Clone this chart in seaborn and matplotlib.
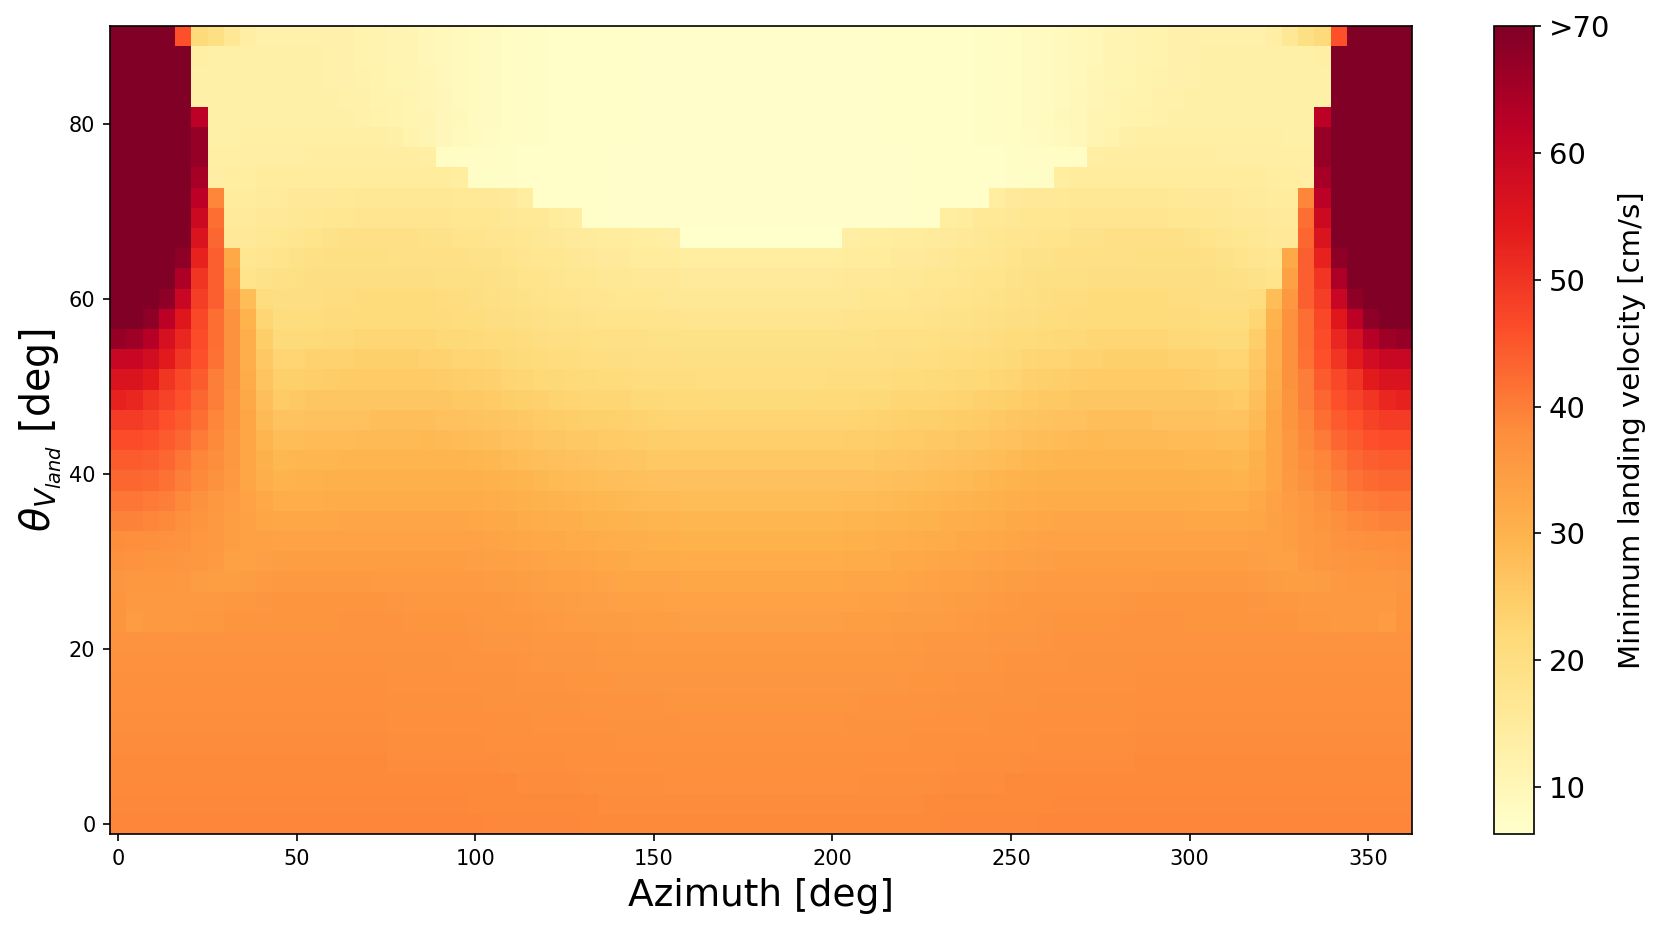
import numpy as np
import pandas as pd
import matplotlib
matplotlib.use("Agg")
import matplotlib.pyplot as plt
import seaborn as sns

D = 75  # saturated cells, above the ">70" end of the scale
# Half-profile of each elevation row (azimuth 0 to ~178 deg), top row first; the map is mirror-symmetric.
r00 = [D,D,D,D,46,21.5,19.5,16.5,14,12.5,12.5,12.5,12.5,12.5,12.3,12,11.6,11.2,10.8,10.2,9.6,9.1,8.7,8.3,8,7.7,7.5,7.2,7.1,7,6.9,6.8,6.8,6.7,6.6,6.6,6.6,6.6,6.6,6.6]
r01 = [D,D,D,D,D,13.5,13,13,13,12.8,12.8,12.8,12.8,12.5,12.3,12,11.6,11.2,10.8,10.2,9.6,9.1,8.7,8.3,8,7.7,7.5,7.2,7.1,7,6.9,6.8,6.8,6.7,6.6,6.6,6.6,6.6,6.6,6.6]
r02 = [D,D,D,D,D,13,13,13,13,13,12.8,12.8,12.8,12.6,12.4,12.2,11.8,11.4,11,10.4,9.7,9.1,8.7,8.3,8,7.7,7.5,7.2,7.1,7,6.9,6.8,6.8,6.7,6.6,6.6,6.6,6.6,6.6,6.6]
r03 = [D,D,D,D,D,13,13,13,13,13,13,12.8,12.8,12.8,12.6,12.4,12,11.6,11.2,10.6,9.8,9.2,8.7,8.3,8,7.7,7.5,7.2,7.1,7,6.9,6.8,6.8,6.7,6.6,6.6,6.6,6.6,6.6,6.6]
r04 = [D,D,D,D,D,62,13,13,13,13,13,13,12.8,12.8,12.8,12.6,12.2,11.8,11.4,10.8,10,9.3,8.7,8.3,8,7.7,7.5,7.2,7.1,7,6.9,6.8,6.8,6.7,6.6,6.6,6.6,6.6,6.6,6.6]
r05 = [D,D,D,D,D,67,13.2,13.2,13.5,13.5,13.5,13.5,13.5,13.5,13.5,13.5,13.5,13,12,10.8,9.8,9.2,8.6,8.2,7.9,7.6,7.4,7.2,7.1,7,6.9,6.8,6.8,6.7,6.6,6.6,6.6,6.6,6.6,6.6]
r06 = [D,D,D,D,D,67,13.5,13.5,13.8,14,14,14,14.2,14.2,14.2,14.2,14.2,14.2,14.2,14,7.8,7.8,7.7,7.6,7.4,7.2,7.1,7,6.9,6.8,6.8,6.7,6.7,6.6,6.6,6.6,6.6,6.6,6.6,6.6]
r07 = [D,D,D,D,D,65,14,14.3,14.5,14.8,15,15,15,15,15,15,15,15,15,15,14.8,14.5,7.5,7.4,7.3,7.2,7.1,7,6.9,6.8,6.8,6.7,6.7,6.6,6.6,6.6,6.6,6.6,6.6,6.6]
r08 = [D,D,D,D,D,62,39,15,15,15.2,15.5,15.8,16,16,16.2,16.5,16.5,16.5,16.5,16.5,16.5,16.2,16,16,15.5,14.5,7.2,7,6.9,6.8,6.8,6.7,6.7,6.6,6.6,6.6,6.6,6.6,6.6,6.6]
r09 = [D,D,D,D,D,59,42,15.5,15.5,15.8,16,16.5,16.8,17,17.2,17.5,17.5,17.5,17.5,17.5,17.5,17.2,17,17,16.5,16.2,15.8,15,14.5,6.9,6.8,6.7,6.7,6.6,6.6,6.6,6.6,6.6,6.6,6.6]
r10 = [D,D,D,D,D,56,43,15.8,16,16.5,17,17.5,18,18.5,19,19.2,19,19,19,18.5,18.5,18,18,17.5,17.5,17,16.5,16,15.5,15.2,15,14.8,14.5,14.3,14,6.5,6.5,6.5,6.5,6.5]
r11 = [D,D,D,D,68,53,44,32,17,17.5,18,18.5,19,19.5,19.5,19.5,19.5,19,19,19,19,19,18.5,18.5,18,17.5,17,17,16.5,16,15.5,15.5,15,15,14.8,14.5,14.5,14.5,14.5,14.5]
r12 = [D,D,D,D,64,50,44,34,18,18.5,19,19.5,20,20,20,20,20,20,20,20,19.5,19.5,19.5,19,18.5,18,18,17.5,17,17,16.5,16.5,16,16,16,15.5,15.5,15.5,15.5,15.5]
r13 = [D,D,D,68,60,48.5,44,36,28,20.5,20,20,20,20.5,20.5,21,21,21,21,21,20.5,20.5,20,19.5,19,18.8,18.3,18,17.8,17.5,17.3,17,17,17,16.5,16.5,16.5,16.5,16.5,16.5]
r14 = [72,72,68,62,55,47,42,37,30,22.5,20.5,20.5,20.5,21,21,21.2,21.2,21.2,21.2,21.2,21,20.8,20.5,20.2,20,19.5,19.2,18.8,18.6,18.3,18.2,18,18,17.8,17.8,17.6,17.6,17.6,17.6,17.6]
r15 = [67,66,63,57,52,46.5,42,37,31,24.5,21.5,21.5,21.8,22,22,22.5,22.5,22.5,22.5,22.5,22.2,22,21.8,21.3,21,20.5,20.2,19.8,19.6,19.3,19.2,19,19,18.8,18.8,18.8,18.8,18.8,18.8,18.8]
r16 = [60,60,58,54,50,46,41.5,37,31,25.5,23,23.2,23.5,23.5,23.5,24,24,24,24,23.5,23.5,23.2,23,22.5,22,21.5,21.2,20.8,20.6,20.3,20.2,20,19.9,19.8,19.8,19.6,19.6,19.6,19.6,19.6]
r17 = [56,56,54,50,47,44.5,40,37,31.5,26.5,24.2,24.2,24.5,24.8,25,25,25,25,25,25,24.8,24.5,24.2,23.8,23.2,22.8,22.4,22,21.8,21.5,21.2,21,20.8,20.8,20.6,20.6,20.4,20.4,20.4,20.4]
r18 = [53,52,50,48,46,43,40,36.5,32,27.5,25.2,25.5,26,26,26,26,26,26,26,26,26,25.8,25.5,25,24.5,24.2,23.8,23.4,23,22.8,22.5,22.5,22.2,22,21.8,21.8,21.8,21.6,21.6,21.6]
r19 = [49,49,48,46,44.5,42,39,36.5,33,28.5,26.8,26.8,27,27,27,27,27.5,27.5,27.5,27.5,27.2,27,26.8,26.5,26,25.6,25.2,24.8,24.5,24.2,24,23.8,23.5,23.3,23.2,23,23,23,23,23]
r20 = [46.5,46.5,46,44.5,43,40.5,38.5,36,33,29.5,28,28,28.2,28.2,28.2,28.5,28.5,28.5,28.5,28.8,28.5,28.2,28,27.5,27,26.8,26.4,26,25.8,25.5,25.2,25,24.8,24.6,24.5,24.3,24.3,24.3,24.3,24.3]
r21 = [44.5,44.5,44,43,41,39,38,36,33,30.5,29,29.2,29.2,29.2,29.5,29.5,29.5,29.5,29.5,29.5,29.5,29.5,29.2,29,28.5,28,27.7,27.3,27,26.8,26.5,26.3,26,25.8,25.7,25.6,25.6,25.6,25.6,25.6]
r22 = [43,43,42.5,41.5,40,38.5,37,35.5,33,31,30,30.2,30.2,30.5,30.5,30.5,30.5,30.5,30.5,30.5,30.5,30.5,30.5,30.2,30,29.5,29,28.6,28.3,28,27.8,27.5,27.3,27.2,27,27,27,27,27,27]
r23 = [41,41,40.5,40,38.5,37,36,35,33.5,32.2,31.3,31.3,31.3,31.5,31.5,31.5,31.5,31.5,31.5,31.5,31.5,31.5,31.5,31.3,31,30.5,30.2,29.8,29.5,29.2,29,28.8,28.5,28.3,28.2,28,28,28,28,28]
r24 = [39.5,39.5,39,38.5,37.5,36.5,35.5,34.5,33.7,33,32.5,32.5,32.5,32.5,32.8,32.8,32.8,32.8,32.8,32.8,32.8,32.8,32.6,32.4,32,31.6,31.3,31,30.7,30.4,30.2,30,29.8,29.6,29.5,29.3,29.3,29.3,29.3,29.3]
r25 = [38,37.8,37.6,37.2,36.8,36,35.5,34.5,34,33.8,33.6,33.6,33.6,33.6,33.6,33.6,33.6,33.6,33.6,33.6,33.6,33.6,33.6,33.3,33,32.6,32.4,32,31.8,31.5,31.3,31,30.8,30.6,30.5,30.2,30.2,30.2,30.2,30.2]
r26 = [37,36.8,36.6,36.6,36.2,35.8,35.3,34,34,34.3,34.6,34.6,34.6,34.6,34.6,34.6,34.6,34.6,34.6,34.6,34.6,34.6,34.3,34.1,33.9,33.5,33.2,33,32.7,32.5,32.2,32,31.8,31.6,31.5,31.2,31.2,31.2,31.2,31.2]
r27 = [36.2,36,35.8,35.8,35.6,34.8,34.6,34.6,34.8,35.2,35.5,35.5,35.5,35.5,35.5,35.5,35.2,35.2,35.2,35.2,35.2,35.2,35.2,35,34.7,34.5,34.2,34,33.7,33.5,33.3,33.1,33,32.8,32.7,32.6,32.6,32.6,32.6,32.6]
r28 = [36.5,35.5,35.5,35.5,35.5,35.5,35.5,36,36,36.4,36.5,36.5,36.5,36.5,36.5,36.5,36.5,36.2,36,36,36,36,36,35.7,35.5,35.2,35,34.7,34.5,34.3,34.2,34,33.9,33.8,33.6,33.5,33.5,33.5,33.5,33.5]
r29 = [36.5,35,35.5,35.5,35.5,36,36,36.5,36.5,36.5,36.5,36.5,36.5,36.6,36.7,36.7,36.7,36.7,36.5,36.5,36.5,36.5,36.4,36.1,36,35.8,35.5,35.3,35,34.9,34.8,34.7,34.6,34.5,34.5,34.4,34.4,34.4,34.4,34.4]
r30 = [36.8,36.8,36.8,36.8,36.8,36.8,36.8,36.8,36.8,36.8,36.8,36.8,36.8,36.8,36.8,36.8,36.8,36.8,36.8,36.8,36.8,36.7,36.6,36.4,36.3,36.2,36,35.9,35.8,35.7,35.6,35.5,35.4,35.4,35.3,35.3,35.3,35.3,35.3,35.3]
r31 = [37.2,37.2,37.2,37.2,37.2,37.2,37.2,37.2,37.2,37.2,37.2,37.2,37.2,37.2,37.2,37.2,37.2,37.1,37,37,37,36.9,36.8,36.8,36.7,36.5,36.4,36.3,36.3,36.2,36.1,36,36,35.9,35.9,35.8,35.8,35.8,35.8,35.8]
r32 = [37.5,37.5,37.5,37.5,37.5,37.5,37.5,37.5,37.5,37.5,37.5,37.5,37.5,37.5,37.5,37.5,37.5,37.4,37.3,37.3,37.3,37.2,37.2,37.1,37,36.9,36.8,36.7,36.6,36.6,36.5,36.4,36.4,36.3,36.3,36.2,36.2,36.2,36.2,36.2]
r33 = [37.8,37.8,37.8,37.8,37.8,37.8,37.8,37.8,37.8,37.8,37.8,37.7,37.7,37.7,37.7,37.7,37.7,37.6,37.6,37.6,37.5,37.5,37.5,37.4,37.3,37.2,37.1,37,37,36.9,36.8,36.8,36.7,36.7,36.6,36.6,36.6,36.6,36.6,36.6]
r34 = [38,38,38,38,38,38,38,38,38,38,38,38,38,38,38,38,38,37.9,37.9,37.9,37.8,37.8,37.7,37.7,37.6,37.5,37.4,37.4,37.3,37.2,37.2,37.1,37,37,37,36.9,36.9,36.9,36.9,36.9]
r35 = [38.2,38.2,38.2,38.2,38.2,38.2,38.2,38.2,38.2,38.2,38.2,38.2,38.2,38.2,38.2,38.2,38.2,38.1,38.1,38.1,38,38,38,37.9,37.9,37.8,37.7,37.7,37.6,37.5,37.5,37.4,37.4,37.3,37.3,37.3,37.3,37.3,37.3,37.3]
r36 = [38.4,38.4,38.4,38.4,38.4,38.4,38.4,38.4,38.4,38.4,38.4,38.4,38.4,38.4,38.4,38.4,38.4,38.3,38.3,38.3,38.3,38.3,38.2,38.2,38.1,38.1,38,38,37.9,37.9,37.8,37.8,37.7,37.7,37.6,37.6,37.6,37.6,37.6,37.6]
r37 = [38.6,38.6,38.6,38.6,38.6,38.6,38.6,38.6,38.6,38.6,38.6,38.6,38.6,38.6,38.6,38.6,38.6,38.5,38.5,38.5,38.5,38.5,38.4,38.4,38.4,38.3,38.3,38.2,38.2,38.1,38.1,38,38,38,37.9,37.9,37.9,37.9,37.9,37.9]
r38 = [38.8,38.8,38.8,38.8,38.8,38.8,38.8,38.8,38.8,38.8,38.8,38.8,38.8,38.8,38.8,38.8,38.8,38.7,38.7,38.7,38.7,38.7,38.6,38.6,38.6,38.5,38.5,38.5,38.4,38.4,38.3,38.3,38.3,38.2,38.2,38.2,38.2,38.2,38.2,38.2]
r39 = [39,39,39,39,39,39,39,39,39,39,39,39,39,39,39,39,39,38.9,38.9,38.9,38.9,38.9,38.9,38.8,38.8,38.8,38.7,38.7,38.7,38.6,38.6,38.6,38.5,38.5,38.5,38.4,38.4,38.4,38.4,38.4]

half_rows = [r00,r01,r02,r03,r04,r05,r06,r07,r08,r09,r10,r11,r12,r13,r14,r15,r16,r17,r18,r19,
             r20,r21,r22,r23,r24,r25,r26,r27,r28,r29,r30,r31,r32,r33,r34,r35,r36,r37,r38,r39]

azimuth_step = 360 / 79
elevation_step = 90 / 39
azimuth_ticks = [0, 50, 100, 150, 200, 250, 300, 350]
elevation_ticks = [0, 20, 40, 60, 80]
cbar_ticks = [10, 20, 30, 40, 50, 60, 70]
cbar_labels = ["10", "20", "30", "40", "50", "60", ">70"]

values = np.array([list(r) + list(r)[::-1] for r in half_rows], dtype=float)
azimuth = np.arange(values.shape[1]) * azimuth_step
elevation = 90 - np.arange(values.shape[0]) * elevation_step
frame = pd.DataFrame(values, index=elevation, columns=azimuth)

W, H = 1661, 928
fig = plt.figure(figsize=(W / 150, H / 150), dpi=150)
ax = fig.add_axes([110 / W, 1 - 834 / H, (1412 - 110) / W, (834 - 26) / H])
cax = fig.add_axes([1494 / W, 1 - 834 / H, (1534 - 1494) / W, (834 - 26) / H])

sns.heatmap(frame, ax=ax, cbar_ax=cax, cmap="YlOrRd", vmin=6.3, vmax=70,
            xticklabels=False, yticklabels=False, rasterized=True)

for s in ax.spines.values():
    s.set_visible(True)
    s.set_linewidth(0.8)
    s.set_color("black")

ax.set_xticks([a / azimuth_step + 0.5 for a in azimuth_ticks])
ax.set_xticklabels([str(a) for a in azimuth_ticks], rotation=0, fontsize=10)
ax.set_yticks([(90 - e) / elevation_step + 0.5 for e in elevation_ticks])
ax.set_yticklabels([str(e) for e in elevation_ticks], rotation=0, fontsize=10)
ax.tick_params(length=3.5, width=0.8, bottom=True, left=True)
ax.set_xlabel("Azimuth [deg]", fontsize=18, labelpad=4.5)
ax.set_ylabel(r"$\theta_{V_{land}}$ [deg]", fontsize=19, labelpad=3)

cb = ax.collections[0].colorbar
cb.set_ticks(cbar_ticks)
cb.set_ticklabels(cbar_labels)
cb.ax.tick_params(labelsize=14, length=3.5, width=0.8)
cb.outline.set_visible(True)
cb.outline.set_linewidth(0.8)
cb.outline.set_edgecolor("black")
cb.set_label("Minimum landing velocity [cm/s]", fontsize=14, labelpad=4)

fig.savefig("out.png", dpi=150)
